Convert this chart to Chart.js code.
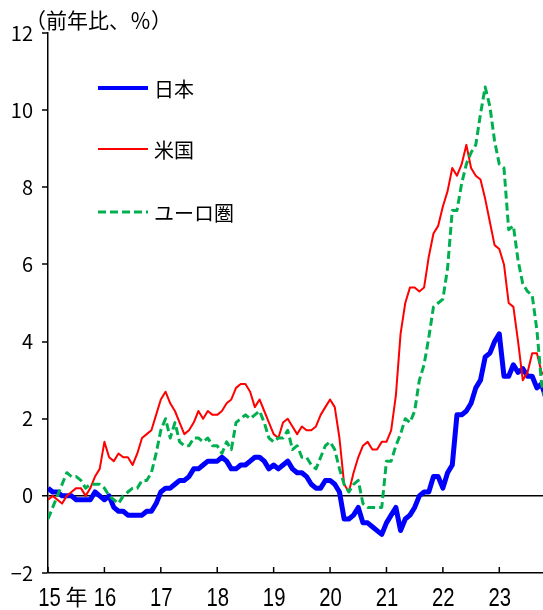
<!DOCTYPE html>
<html><head><meta charset="utf-8">
<script src="https://cdn.jsdelivr.net/npm/chart.js@4.4.1/dist/chart.umd.min.js"></script>
<style>html,body{margin:0;padding:0;background:#fff;overflow:hidden;} #c{display:block;}</style>
</head><body>
<canvas id="c" width="543" height="610"></canvas>
<script>
// ---- data (monthly, Jan 2015 onward) ----
const yearLabels = ['15','16','17','18','19','20','21','22','23'];
const yearSuffix = '年';
const titleText = '（前年比、％）';
const seriesNames = ['日本', '米国', 'ユーロ圏'];
const yTicks = [-2, 0, 2, 4, 6, 8, 10, 12];

const japan = [
  0.2, 0.1, 0.1, 0.0, 0.0, 0.0, -0.1, -0.1, -0.1, -0.1, 0.1, 0.0,
  -0.1, 0.0, -0.3, -0.4, -0.4, -0.5, -0.5, -0.5, -0.5, -0.4, -0.4, -0.2,
  0.1, 0.2, 0.2, 0.3, 0.4, 0.4, 0.5, 0.7, 0.7, 0.8, 0.9, 0.9,
  0.9, 1.0, 0.9, 0.7, 0.7, 0.8, 0.8, 0.9, 1.0, 1.0, 0.9, 0.7,
  0.8, 0.7, 0.8, 0.9, 0.7, 0.6, 0.6, 0.5, 0.3, 0.2, 0.2, 0.4,
  0.4, 0.3, 0.1, -0.6, -0.6, -0.5, -0.3, -0.7, -0.7, -0.8, -0.9, -1.0,
  -0.7, -0.5, -0.3, -0.9, -0.6, -0.5, -0.3, 0.0, 0.1, 0.1, 0.5, 0.5,
  0.2, 0.6, 0.8, 2.1, 2.1, 2.2, 2.4, 2.8, 3.0, 3.6, 3.7, 4.0,
  4.2, 3.1, 3.1, 3.4, 3.2, 3.3, 3.1, 3.1, 2.8, 2.9, 2.5
];
const us = [
  -0.1, 0.0, -0.1, -0.2, 0.0, 0.1, 0.2, 0.2, 0.0, 0.2, 0.5, 0.7,
  1.4, 1.0, 0.9, 1.1, 1.0, 1.0, 0.8, 1.1, 1.5, 1.6, 1.7, 2.1,
  2.5, 2.7, 2.4, 2.2, 1.9, 1.6, 1.7, 1.9, 2.2, 2.0, 2.2, 2.1,
  2.1, 2.2, 2.4, 2.5, 2.8, 2.9, 2.9, 2.7, 2.3, 2.5, 2.2, 1.9,
  1.6, 1.5, 1.9, 2.0, 1.8, 1.6, 1.8, 1.7, 1.7, 1.8, 2.1, 2.3,
  2.5, 2.3, 1.5, 0.3, 0.1, 0.6, 1.0, 1.3, 1.4, 1.2, 1.2, 1.4,
  1.4, 1.7, 2.6, 4.2, 5.0, 5.4, 5.4, 5.3, 5.4, 6.2, 6.8, 7.0,
  7.5, 7.9, 8.5, 8.3, 8.6, 9.1, 8.5, 8.3, 8.2, 7.7, 7.1, 6.5,
  6.4, 6.0, 5.0, 4.9, 4.0, 3.0, 3.2, 3.7, 3.7, 3.2, 3.1
];
const euro = [
  -0.6, -0.3, 0.0, 0.3, 0.6, 0.5, 0.5, 0.4, 0.2, 0.3, 0.3, 0.3,
  0.2, 0.0, -0.1, -0.2, 0.0, 0.1, 0.2, 0.2, 0.4, 0.4, 0.6, 1.1,
  1.7, 2.0, 1.5, 1.9, 1.4, 1.3, 1.3, 1.5, 1.5, 1.4, 1.5, 1.3,
  1.3, 1.1, 1.4, 1.2, 1.9, 2.0, 2.1, 2.0, 2.1, 2.2, 1.9, 1.5,
  1.4, 1.5, 1.5, 1.7, 1.2, 1.3, 1.0, 1.0, 0.8, 0.7, 1.0, 1.3,
  1.4, 1.2, 0.7, 0.3, 0.1, 0.3, 0.4, -0.2, -0.3, -0.3, -0.3, -0.3,
  0.9, 0.9, 1.3, 1.6, 2.0, 1.9, 2.2, 3.0, 3.4, 4.1, 4.9, 5.0,
  5.1, 5.9, 7.4, 7.4, 8.1, 8.6, 8.9, 9.1, 9.9, 10.6, 10.1, 9.2,
  8.6, 8.5, 6.9, 7.0, 6.1, 5.5, 5.3, 5.2, 4.3, 2.9, 2.4
];

// ---- styling ----
const CJK = "'Noto Sans CJK JP', 'Noto Sans', sans-serif";
Chart.defaults.font.family = CJK;
Chart.defaults.color = '#000';

const toPoints = arr => arr.map((v, i) => ({ x: i, y: v }));

const decor = {
  id: 'decor',
  afterDraw(chart) {
    const { ctx, chartArea, scales: { x } } = chart;
    ctx.save();
    // inward tick marks on the time axis + year labels
    ctx.strokeStyle = '#000';
    ctx.fillStyle = '#000';
    ctx.lineWidth = 1.5;
    x.ticks.forEach((t, k) => {
      const px = x.getPixelForValue(t.value);
      ctx.beginPath();
      ctx.moveTo(px, chartArea.bottom);
      ctx.lineTo(px, chartArea.bottom - 6);
      ctx.stroke();
      ctx.save();
      ctx.translate(px + (k === 0 ? 1.5 : 0.5), 606);
      ctx.scale(0.78, 1);
      ctx.font = "26px 'Liberation Sans', 'DejaVu Sans', sans-serif";
      ctx.textAlign = 'center';
      ctx.textBaseline = 'alphabetic';
      ctx.fillText(yearLabels[k], 0, 0);
      ctx.restore();
    });
    // "年" after first year label
    ctx.font = "22px " + CJK;
    ctx.textAlign = 'left';
    ctx.textBaseline = 'alphabetic';
    const p0 = x.getPixelForValue(x.ticks[0].value);
    ctx.fillText(yearSuffix, p0 + 17.5, 605);
    // title
    ctx.font = "21px " + CJK;
    ctx.textBaseline = 'middle';
    ctx.fillText(titleText, 25, 20);
    // legend
    const rows = [88, 149, 212];
    chart.data.datasets.forEach((ds, i) => {
      const y = rows[i];
      ctx.save();
      ctx.strokeStyle = ds.borderColor;
      ctx.lineWidth = ds.borderWidth === 5 ? 4 : ds.borderWidth;
      ctx.setLineDash(ds.borderDash || []);
      ctx.beginPath();
      ctx.moveTo(98, y);
      ctx.lineTo(148, y);
      ctx.stroke();
      ctx.restore();
      ctx.font = "20px " + CJK;
      ctx.textBaseline = 'middle';
      ctx.fillStyle = '#000';
      ctx.fillText(ds.label, 154, y + 1);
    });
    ctx.restore();
  }
};

new Chart(document.getElementById('c'), {
  type: 'line',
  data: {
    datasets: [
      { label: seriesNames[0], data: toPoints(japan), borderColor: '#0000FF', borderWidth: 5, order: 3 },
      { label: seriesNames[1], data: toPoints(us), borderColor: '#FF0000', borderWidth: 2, order: 2 },
      { label: seriesNames[2], data: toPoints(euro), borderColor: '#00B050', borderWidth: 3, borderDash: [8, 4], order: 1 }
    ]
  },
  options: {
    responsive: false,
    animation: false,
    layout: { padding: { top: 33, left: 0, right: 0, bottom: 0 } },
    plugins: { legend: { display: false }, tooltip: { enabled: false }, title: { display: false } },
    elements: {
      point: { radius: 0 },
      line: { tension: 0, borderJoinStyle: 'round', borderCapStyle: 'butt', fill: false }
    },
    scales: {
      x: {
        type: 'linear', min: 0, max: 105.3,
        afterBuildTicks: s => { s.ticks = yearLabels.map((_, k) => ({ value: k * 12 })); },
        afterFit: s => { s.height = 37; },
        grid: { display: false, drawTicks: false },
        border: { display: true, color: '#000', width: 1.5 },
        ticks: { display: false, autoSkip: false, maxRotation: 0 }
      },
      y: {
        min: -2, max: 12,
        afterBuildTicks: s => { s.ticks = yTicks.map(v => ({ value: v })); },
        afterFit: s => { s.width = 48; },
        grid: {
          drawOnChartArea: true,
          color: c => (c.tick && c.tick.value === 0) ? '#000' : 'rgba(0,0,0,0)',
          lineWidth: c => (c.tick && c.tick.value === 0) ? 1.5 : 0,
          tickColor: '#000', tickWidth: 1.5, tickLength: 6
        },
        border: { display: true, color: '#000', width: 1.5 },
        ticks: {
          padding: 9, color: '#000', font: { size: 20 },
          callback: v => v < 0 ? '\u2212' + Math.abs(v) : String(v)
        }
      }
    }
  },
  plugins: [decor]
});
</script>
</body></html>
